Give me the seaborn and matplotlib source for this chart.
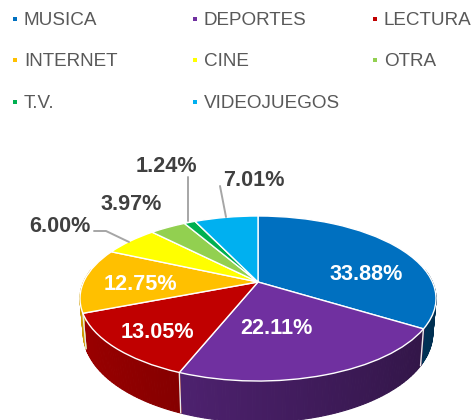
import numpy as np
import seaborn as sns
import matplotlib
matplotlib.use("Agg")
import matplotlib.pyplot as plt
from matplotlib.transforms import Transform

labels = ["MUSICA", "DEPORTES", "LECTURA", "INTERNET", "CINE", "OTRA", "T.V.", "VIDEOJUEGOS"]
values = [33.88, 22.11, 13.05, 12.75, 6.00, 3.97, 1.24, 7.01]
colors = ["#0070C0", "#7030A0", "#C00000", "#FFC000", "#FFFF00", "#92D050", "#00B050", "#00B0F0"]

# where the texts sit, in pixels of the 474x420 picture
legend_x = [15, 195, 375]
legend_y = [19, 60, 102]
label_x = [366, 276, 157, 140, 60, 131, 166, 254]
label_y = [274, 328, 333, 284, 227, 205, 167, 180]
label_colors = ["white"] * 4 + ["#404040"] * 4
leaders = [
    ([94, 106, 129], [231, 231, 242]),
    ([188, 188], [177, 221]),
    ([220, 226], [186, 217]),
]

# tilted disc: apex of the pie, perspective strength, wall height
cx, cy = 258, 282
bx, by, k = 174.4, 79.2, 0.2
wall = 33


def project(u, v):
    w = 1 + k * v
    return cx + bx * u / w, cy - by * v / w


class Tilt(Transform):
    input_dims = 2
    output_dims = 2
    is_separable = False
    has_inverse = False

    def transform_non_affine(self, xy):
        x, y = project(xy[:, 0], xy[:, 1])
        return np.column_stack([x, y])


sns.set_theme(style="white")
plt.rcParams["font.family"] = ["Liberation Sans", "DejaVu Sans"]

fig = plt.figure(figsize=(4.74, 4.2), dpi=100)
ax = fig.add_axes([0, 0, 1, 1])

wedges, _ = ax.pie(values, colors=sns.color_palette(colors), startangle=90, counterclock=False,
                   wedgeprops={"edgecolor": "white", "linewidth": 1.0, "zorder": 3})

# side wall, thin strips so the shade can run from left to right
for wedge, col in zip(wedges, colors):
    base = np.array(matplotlib.colors.to_rgb(col))
    angles = np.radians(np.arange(wedge.theta1, wedge.theta2 + 1, 1.0))
    angles = np.append(angles, np.radians(wedge.theta2))
    for a, b in zip(angles[:-1], angles[1:]):
        if np.sin(a) > 0.15 and np.sin(b) > 0.15:
            continue
        u = np.cos([a, b])
        v = np.sin([a, b])
        x, y = project(u, v)
        w = 1 + k * v
        xb = cx + (x - cx) * 0.982
        yb = y + wall / w
        shade = base * (0.62 - 0.2 * u.mean())
        ax.fill([x[0], x[1], xb[1], xb[0]], [y[0], y[1], yb[1], yb[0]],
                color=shade, linewidth=0.8, zorder=1)
    # pale seam where two slices meet on the wall
    if np.sin(angles[0]) < 0.1:
        u, v = np.cos(angles[0]), np.sin(angles[0])
        x, y = project(u, v)
        ax.plot([x, cx + (x - cx) * 0.982], [y, y + wall / (1 + k * v)], color="#e8e8e8", lw=1.0, zorder=2)

tilt = Tilt() + ax.transData
for wedge in wedges:
    wedge.set_transform(tilt)

for lx, ly in leaders:
    ax.plot(lx, ly, color="#A6A6A6", lw=1.4, zorder=4)

for val, x, y, col in zip(values, label_x, label_y, label_colors):
    ax.text(x, y, f"{val:.2f}%", color=col, fontsize=15.6, fontweight="bold",
            ha="center", va="center", zorder=5)

for i, (name, col) in enumerate(zip(labels, colors)):
    x = legend_x[i % 3]
    y = legend_y[i // 3]
    ax.scatter([x], [y], marker="s", s=9, color=col, linewidths=0, zorder=5)
    ax.text(x + 9, y + 1.5, name, color="#595959", fontsize=13.6, ha="left", va="center", zorder=5)

ax.set_aspect("auto")
ax.set_xlim(0, 474)
ax.set_ylim(420, 0)
ax.axis("off")

fig.savefig("out.png", dpi=100, facecolor="white")
